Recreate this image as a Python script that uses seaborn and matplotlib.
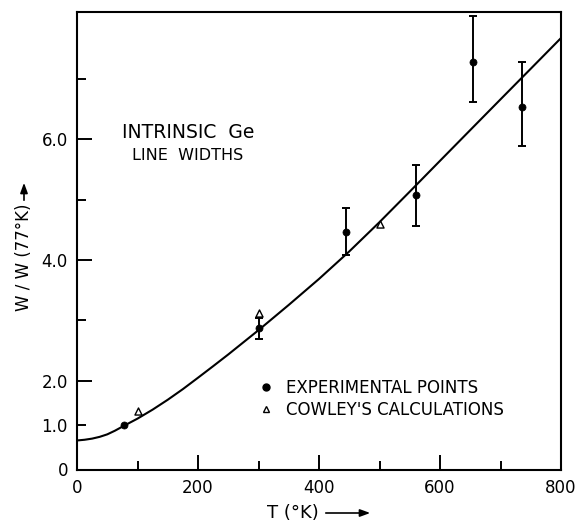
import numpy as np
import matplotlib
matplotlib.use("Agg")
import matplotlib.pyplot as plt
from matplotlib.lines import Line2D
from matplotlib.patches import FancyArrowPatch
from matplotlib.ticker import FixedLocator, FixedFormatter
import seaborn as sns

# Theoretical line-width curve, W/W(77 K) versus temperature
curve_T = [0, 12.5, 25, 37.5, 50, 62.5, 77, 100, 125, 150, 175, 200, 225,
           250, 300, 350, 400, 450, 500, 550, 600, 650, 700, 750, 800]
curve_W = [0.655, 0.671, 0.697, 0.737, 0.793, 0.874, 0.982, 1.148, 1.351,
           1.574, 1.814, 2.052, 2.243, 2.437, 2.839, 3.257, 3.687, 4.142,
           4.627, 5.132, 5.642, 6.151, 6.659, 7.166, 7.674]

# Measured line widths with their uncertainty ranges
exp_T = [77, 300, 445, 560, 655, 735]
exp_W = [1.0, 2.87, 4.47, 5.07, 7.28, 6.54]
exp_low = [1.0, 2.69, 4.08, 4.57, 6.62, 5.88]
exp_high = [1.0, 3.04, 4.86, 5.58, 8.04, 7.28]

# Cowley's calculated values
calc_T = [100, 300, 500]
calc_W = [1.32, 3.13, 4.60]

x_ticks = [0, 200, 400, 600, 800]
x_tick_labels = ["0", "200", "400", "600", "800"]
x_minor = [100, 300, 500, 700]
y_ticks = [0, 2, 4, 6]
y_tick_labels = ["0", "2.0", "4.0", "6.0"]
y_minor = [1, 3, 5, 7]
y_minor_labels = ["1.0", "", "", ""]

sns.set_theme(style="white")
plt.rcParams["font.family"] = ["DejaVu Sans"]
plt.rcParams["text.color"] = "black"
plt.rcParams["axes.labelcolor"] = "black"

W, H = 582, 523
fig = plt.figure(figsize=(W / 100, H / 100), dpi=100)
ax = fig.add_axes([77 / W, 1 - 469.5 / H, (561 - 77) / W, (469.5 - 12.3) / H])

sns.lineplot(x=curve_T, y=curve_W, ax=ax, color="black", linewidth=1.5,
             errorbar=None)

err_T = exp_T[1:]
err_W = np.array(exp_W[1:])
yerr = [err_W - np.array(exp_low[1:]), np.array(exp_high[1:]) - err_W]
ax.errorbar(err_T, err_W, yerr=yerr, fmt="none", ecolor="black",
            elinewidth=1.4, capsize=3, capthick=1.4, zorder=3)

sns.scatterplot(x=exp_T, y=exp_W, ax=ax, color="black", edgecolor="black",
                marker="o", s=26, linewidth=0.5, zorder=4)
sns.scatterplot(x=calc_T, y=calc_W, ax=ax, color="white", edgecolor="black",
                marker="^", s=26, linewidth=1.0, zorder=4)

# The vertical axis is compressed below 2.0
A = 44.3 / 60.4


def fwd(y):
    y = np.asarray(y, dtype=float)
    return np.where(y <= 2, y * A, 2 * A + (y - 2))


def inv(v):
    v = np.asarray(v, dtype=float)
    return np.where(v <= 2 * A, v / A, (v - 2 * A) + 2)


ax.set_yscale("function", functions=(fwd, inv))
ax.set_xlim(0, 800)
ax.set_ylim(0, 8.1)

ax.xaxis.set_major_locator(FixedLocator(x_ticks))
ax.xaxis.set_major_formatter(FixedFormatter(x_tick_labels))
ax.xaxis.set_minor_locator(FixedLocator(x_minor))
ax.yaxis.set_major_locator(FixedLocator(y_ticks))
ax.yaxis.set_major_formatter(FixedFormatter(y_tick_labels))
ax.yaxis.set_minor_locator(FixedLocator(y_minor))
ax.yaxis.set_minor_formatter(FixedFormatter(y_minor_labels))

ax.tick_params(axis="both", which="both", direction="in", color="black",
               labelcolor="black", labelsize=12, width=1.4,
               top=False, right=False, bottom=True, left=True)
ax.tick_params(axis="both", which="major", length=10.5)
ax.tick_params(axis="both", which="minor", length=6.5)
ax.tick_params(axis="x", which="both", pad=7)
ax.tick_params(axis="y", which="both", pad=6.5)

for side in ["left", "right", "top", "bottom"]:
    ax.spines[side].set_visible(True)
    ax.spines[side].set_color("black")
    ax.spines[side].set_linewidth(1.5)

ax.set_xlabel("")
ax.set_ylabel("")
ax.grid(False)


def fx(px):
    return px / W


def fy(py):
    return 1 - py / H


# Axis titles with arrows
fig.text(fx(266.7), fy(513), "T (°K)", ha="left", va="center", fontsize=13,
         color="black")
fig.add_artist(FancyArrowPatch(
    (fx(323), fy(513)), (fx(373), fy(513)), transform=fig.transFigure,
    arrowstyle="-|>,head_length=6,head_width=2.2", color="black", lw=1.2))

fig.text(fx(24), fy(257.5), "W / W (77°K)", rotation=90, ha="center",
         va="center", fontsize=12, color="black")
fig.add_artist(FancyArrowPatch(
    (fx(24), fy(203)), (fx(24), fy(180)), transform=fig.transFigure,
    arrowstyle="-|>,head_length=6,head_width=2.2", color="black", lw=1.2))

# Panel title
fig.text(fx(188), fy(132), "INTRINSIC  Ge", ha="center", va="center",
         fontsize=13.5, color="black")
fig.text(fx(188), fy(156), "LINE  WIDTHS", ha="center", va="center",
         fontsize=11.5, color="black")

handles = [
    Line2D([], [], linestyle="none", marker="o", color="black", markersize=5),
    Line2D([], [], linestyle="none", marker="^", markerfacecolor="white",
           markeredgecolor="black", markersize=5, markeredgewidth=1.0),
]
leg = ax.legend(handles, ["EXPERIMENTAL POINTS", "COWLEY'S CALCULATIONS"],
                loc="upper left", bbox_to_anchor=(fx(258), fy(379)),
                bbox_transform=fig.transFigure, frameon=False, fontsize=12,
                handlelength=1.0, handletextpad=0.7, borderpad=0,
                borderaxespad=0, labelspacing=0.22)
for t in leg.get_texts():
    t.set_color("black")

fig.savefig("out.png", dpi=100)
